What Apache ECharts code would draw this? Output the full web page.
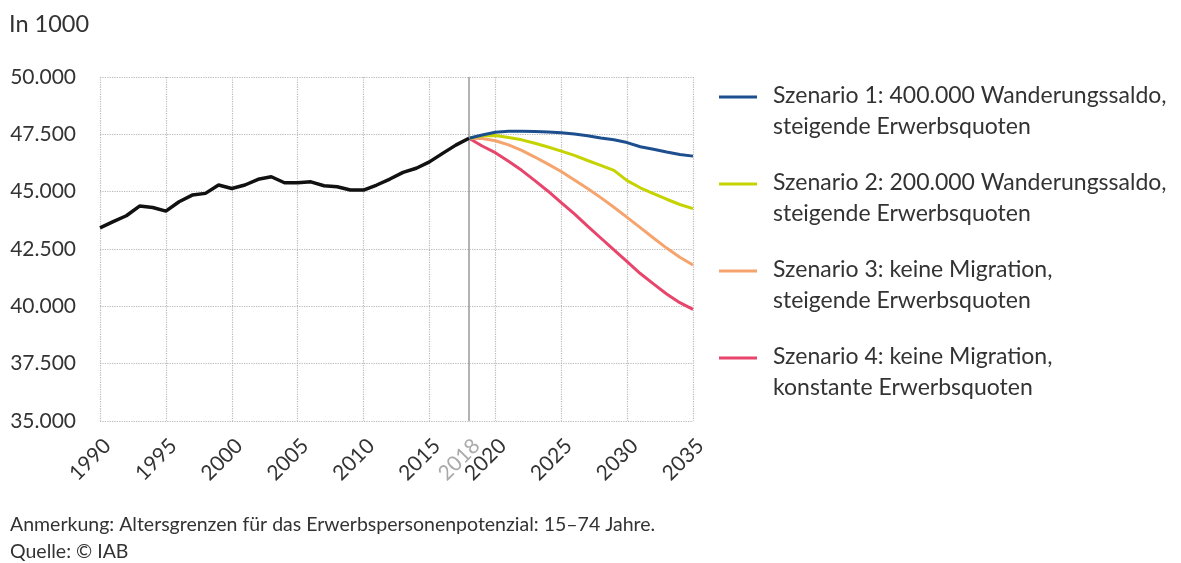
<!DOCTYPE html>
<html>
<head>
<meta charset="utf-8">
<script src="https://cdn.jsdelivr.net/npm/echarts@6/dist/echarts.min.js"></script>
<style>
  html, body { margin: 0; padding: 0; background: #fff; }
  #chart { width: 1181px; height: 563px; }
</style>
</head>
<body>
<div id="chart"></div>
<script>
// Erwerbspersonenpotenzial in 1000
var histYears = [1990, 1991, 1992, 1993, 1994, 1995, 1996, 1997, 1998, 1999,
  2000, 2001, 2002, 2003, 2004, 2005, 2006, 2007, 2008, 2009,
  2010, 2011, 2012, 2013, 2014, 2015, 2016, 2017, 2018]
var histValues = [43425, 43690, 43950, 44370, 44310, 44150, 44560, 44850, 44925, 45290,
  45140, 45290, 45540, 45650, 45390, 45390, 45430, 45260, 45215, 45070,
  45070, 45290, 45550, 45840, 46020, 46300, 46670, 47030, 47330]

var projYears = [2018, 2019, 2020, 2021, 2022, 2023, 2024, 2025, 2026,
  2027, 2028, 2029, 2030, 2031, 2032, 2033, 2034, 2035]
var szenario1 = [47330, 47470, 47590, 47630, 47630, 47620, 47600, 47570, 47510,
  47440, 47340, 47260, 47140, 46960, 46850, 46730, 46620, 46550]
var szenario2 = [47330, 47440, 47450, 47360, 47260, 47110, 46950, 46770, 46580,
  46360, 46150, 45930, 45480, 45170, 44920, 44670, 44440, 44260]
var szenario3 = [47330, 47320, 47220, 47040, 46800, 46510, 46200, 45880, 45510,
  45140, 44740, 44320, 43880, 43430, 42980, 42540, 42140, 41800]
var szenario4 = [47330, 46990, 46700, 46330, 45930, 45480, 45020, 44520, 44030,
  43500, 42980, 42460, 41950, 41430, 40980, 40540, 40160, 39870]

var xLabels = [1990, 1995, 2000, 2005, 2010, 2015, 2018, 2020, 2025, 2030, 2035]
var markYear = 2018

var names = [
  'Szenario 1: 400.000 Wanderungssaldo,\nsteigende Erwerbsquoten',
  'Szenario 2: 200.000 Wanderungssaldo,\nsteigende Erwerbsquoten',
  'Szenario 3: keine Migration,\nsteigende Erwerbsquoten',
  'Szenario 4: keine Migration,\nkonstante Erwerbsquoten'
]
var colors = ['#1d4f8f', '#c5d400', '#f6a46e', '#e8456c']

function pairs(xs, ys) {
  return xs.map(function (x, i) { return [x, ys[i]] })
}
function fmt(v) {
  return String(v).replace(/\B(?=(\d{3})+(?!\d))/g, '.')
}

var font = 'Lato, "Noto Sans", sans-serif'
// Legendensymbol: Strich oben, damit er zur ersten Textzeile passt
var legendIcon = 'path://M0,0H38V3H0Z M0,30.99H0.01V31H0Z'

var scen = [szenario1, szenario2, szenario3, szenario4]
var series = [{
  type: 'line',
  name: 'Ist',
  data: pairs(histYears, histValues),
  showSymbol: false,
  lineStyle: { color: '#111', width: 3.5 },
  itemStyle: { color: '#111' },
  z: 5,
  markLine: {
    silent: true,
    symbol: 'none',
    label: { show: false },
    lineStyle: { color: '#999', type: 'solid', width: 1.5 },
    data: [{ xAxis: markYear }]
  }
}]
scen.forEach(function (vals, i) {
  series.push({
    type: 'line',
    name: names[i],
    data: pairs(projYears, vals),
    showSymbol: false,
    lineStyle: { color: colors[i], width: 3 },
    itemStyle: { color: colors[i] },
    z: 4 - i
  })
})

var chart = echarts.init(document.getElementById('chart'))
chart.setOption({
  backgroundColor: '#fff',
  animation: false,
  textStyle: { fontFamily: font },
  title: {
    text: 'In 1000',
    left: 4,
    top: 7,
    textStyle: { fontFamily: font, fontSize: 23.5, fontWeight: 'normal', color: '#333' }
  },
  grid: {
    left: 100,
    right: 488,
    top: 77,
    bottom: 142
  },
  legend: {
    orient: 'vertical',
    left: 719,
    top: 80,
    padding: 0,
    itemGap: 25,
    itemWidth: 38,
    itemHeight: 31,
    icon: legendIcon,
    data: names,
    textStyle: { fontFamily: font, fontSize: 23, color: '#333', lineHeight: 31, padding: [0, 0, 0, 11] }
  },
  xAxis: {
    type: 'value',
    min: 1990,
    max: 2035,
    interval: 5,
    axisLine: { show: false },
    axisTick: { show: false },
    splitLine: { show: true, lineStyle: { color: '#b8b8b8', type: 'dotted', width: 1.2 } },
    axisLabel: {
      customValues: xLabels,
      rotate: 45,
      margin: 14,
      verticalAlign: 'top',
      fontSize: 21,
      color: '#333',
      formatter: function (v) {
        return v === markYear ? '{g|' + v + '}' : String(v)
      },
      rich: { g: { color: '#aaa', fontSize: 21, fontFamily: font } }
    }
  },
  yAxis: {
    type: 'value',
    min: 35000,
    max: 50000,
    interval: 2500,
    axisLine: { show: false },
    axisTick: { show: false },
    splitLine: { show: true, lineStyle: { color: '#b8b8b8', type: 'dotted', width: 1.2 } },
    axisLabel: {
      margin: 24,
      fontSize: 21,
      color: '#333',
      formatter: fmt
    }
  },
  graphic: [{
    type: 'text',
    left: 10,
    top: 511,
    style: {
      text: 'Anmerkung: Altersgrenzen für das Erwerbspersonenpotenzial: 15–74 Jahre.\nQuelle: © IAB',
      font: '19.5px ' + font,
      fill: '#333',
      lineHeight: 27
    }
  }],
  series: series
})
</script>
</body>
</html>
